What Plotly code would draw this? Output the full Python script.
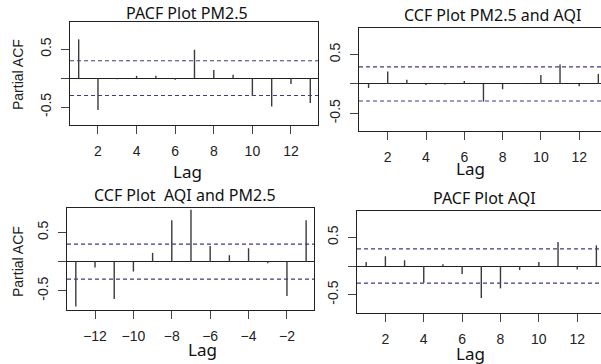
import plotly.graph_objects as go

# ---- data ----
lags_pos = [1, 2, 3, 4, 5, 6, 7, 8, 9, 10, 11, 12, 13]
lags_neg = [-13, -12, -11, -10, -9, -8, -7, -6, -5, -4, -3, -2, -1]

pacf_pm25 = [0.67, -0.55, -0.02, 0.04, 0.04, -0.03, 0.49, 0.14, 0.06, -0.31, -0.49, -0.10, -0.43]
ccf_pm25_aqi = [-0.07, 0.21, 0.07, -0.02, -0.01, 0.05, -0.30, -0.09, 0.01, 0.15, 0.33, -0.04, 0.17]
ccf_aqi_pm25 = [-0.77, -0.10, -0.64, -0.17, 0.15, 0.71, 0.89, 0.27, 0.11, 0.23, -0.03, -0.59, 0.71]
pacf_aqi = [0.07, 0.17, 0.10, -0.29, 0.03, -0.14, -0.56, -0.39, -0.07, 0.07, 0.42, -0.06, 0.36]

conf_bounds = [0.30, 0.29, 0.30, 0.30]

titles = ["PACF Plot PM2.5", "CCF Plot PM2.5 and AQI", "CCF Plot  AQI and PM2.5", "PACF Plot AQI"]
xtick_pos = [2, 4, 6, 8, 10, 12]
xtick_neg = [-12, -10, -8, -6, -4, -2]
ytick_vals = [-0.5, 0, 0.5]
ytick_text = ["-0.5", "", "0.5"]

# ---- layout geometry (pixels) ----
W, H = 601, 364
boxes = [  # left, right, top, bottom
    (70, 318, 22, 125),
    (359, 601, 28, 131),
    (67, 314, 208, 310),
    (357, 601, 211, 313),
]
xranges = [[0.55, 13.4], [0.5, 13.14], [-13.46, -0.59], [0.52, 13.24]]
yranges = [[-0.81, 0.97], [-0.80, 0.95], [-0.83, 0.92], [-0.82, 0.96]]

panels = [
    (lags_pos, pacf_pm25, xtick_pos),
    (lags_pos, ccf_pm25_aqi, xtick_pos),
    (lags_neg, ccf_aqi_pm25, xtick_neg),
    (lags_pos, pacf_aqi, xtick_pos),
]

fig = go.Figure()
layout = dict(
    width=W, height=H, margin=dict(l=0, r=0, t=0, b=0),
    paper_bgcolor="white", plot_bgcolor="white", showlegend=False,
    font=dict(family="Liberation Sans, Arial", color="#222"),
)
shapes = []
annotations = []

title_pos = [(187, 13), (492, 15), (185, 195), (485, 198)]
lag_pos = [(187, 171), (470, 168), (202, 349), (470, 353)]
ylab_pos = [(18, 75), None, (18, 262), None]

for i, ((lags, vals, xt), (l, r, t, b)) in enumerate(zip(panels, boxes)):
    n = i + 1
    xa = "xaxis" if n == 1 else f"xaxis{n}"
    ya = "yaxis" if n == 1 else f"yaxis{n}"
    xref = "x" if n == 1 else f"x{n}"
    yref = "y" if n == 1 else f"y{n}"
    xs, ys = [], []
    for lg, v in zip(lags, vals):
        xs += [lg, lg, None]
        ys += [0, v, None]
    fig.add_trace(go.Scatter(x=xs, y=ys, mode="lines", xaxis=xref, yaxis=yref,
                             line=dict(color="#3a3a3a", width=1.4), hoverinfo="skip"))
    right_open = r >= W
    layout[xa] = dict(
        domain=[l / W, min(r / W, 1.0)], range=xranges[i], anchor=yref,
        tickvals=xt, ticks="outside", ticklen=8, tickcolor="#444", tickwidth=1,
        showline=True, linecolor="#222", linewidth=1, mirror=True,
        showgrid=False, zeroline=False, tickfont=dict(size=14, color="#222"),
        ticklabelstandoff=5,
    )
    layout[ya] = dict(
        domain=[1 - b / H, 1 - t / H], range=yranges[i], anchor=xref,
        tickvals=ytick_vals, ticktext=ytick_text, tickangle=-90,
        ticks="outside", ticklen=8, tickcolor="#444", tickwidth=1,
        showline=True, linecolor="#222", linewidth=1, mirror=not right_open,
        showgrid=False, zeroline=True, zerolinecolor="#222", zerolinewidth=1,
        tickfont=dict(size=14, color="#222"), ticklabelstandoff=4,
    )
    for cb in (conf_bounds[i], -conf_bounds[i]):
        shapes.append(dict(type="line", xref=f"{xref} domain", yref=yref,
                           x0=0, x1=1, y0=cb, y1=cb,
                           line=dict(color="#3c3c86", width=1.2, dash="4px,3px")))
    tx, ty = title_pos[i]
    annotations.append(dict(text=titles[i], x=tx / W, y=1 - ty / H, xref="paper", yref="paper",
                            showarrow=False, xanchor="center", yanchor="middle",
                            font=dict(family="Noto Sans, Open Sans", size=16, color="#111")))
    lx, ly = lag_pos[i]
    annotations.append(dict(text="Lag", x=lx / W, y=1 - ly / H, xref="paper", yref="paper",
                            showarrow=False, xanchor="center", yanchor="middle",
                            font=dict(family="Noto Sans, Open Sans", size=17, color="#111")))
    if ylab_pos[i]:
        px, py = ylab_pos[i]
        annotations.append(dict(text="Partial ACF", x=px / W, y=1 - py / H, xref="paper", yref="paper",
                                showarrow=False, xanchor="center", yanchor="middle", textangle=-90,
                                font=dict(family="Liberation Sans, Arial", size=14, color="#222")))

layout["shapes"] = shapes
layout["annotations"] = annotations
fig.update_layout(**layout)
fig.write_html("out.html", config={"displayModeBar": False},
               post_script="document.body.style.margin='0';document.body.style.overflow='hidden';")
